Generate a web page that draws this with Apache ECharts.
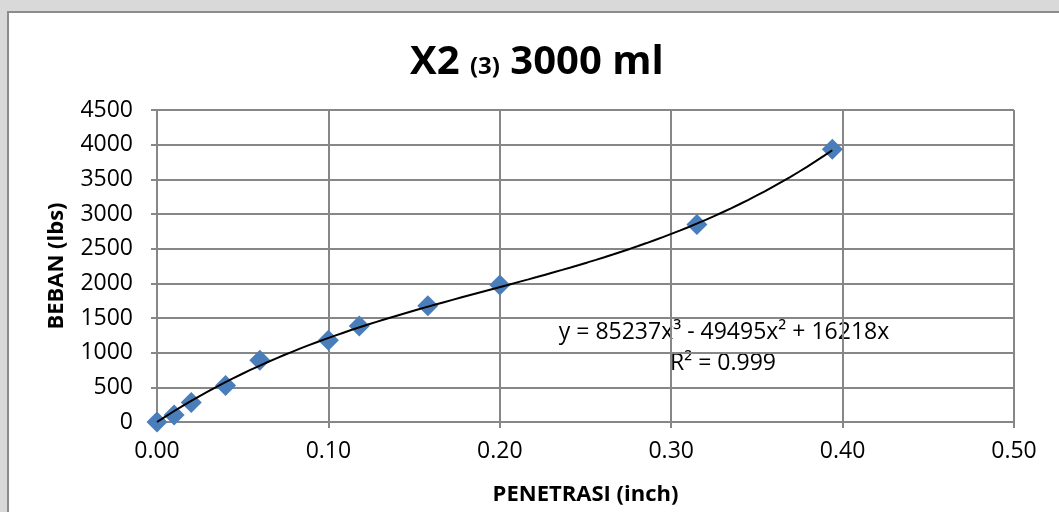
<!DOCTYPE html>
<html>
<head>
<meta charset="utf-8">
<script src="https://cdn.jsdelivr.net/npm/echarts@6/dist/echarts.min.js"></script>
<style>
    body { margin: 0; background: #d9d9d9; }
    #frame {
        position: absolute; left: 7px; top: 11px; right: 0; bottom: 0;
        background: #fff;
        border-left: 2px solid #8c8c8c;
        border-top: 2px solid #8c8c8c;
    }
    #chart { position: absolute; left: 0; top: 0; width: 1059px; height: 512px; }
</style>
</head>
<body>
<div id="frame"></div>
<div id="chart"></div>
<script>
// penetration (inch) and load (lbs)
var penetrasi = [0, 0.01, 0.02, 0.04, 0.06, 0.10, 0.118, 0.158, 0.20, 0.315, 0.394];
var beban = [0, 100, 280, 525, 890, 1180, 1385, 1675, 1975, 2850, 3935];

// trendline coefficients, as printed on the chart (x^3, x^2, x)
var trendCoef = [85237, -49495, 16218];
var trendLabel = 'y = 85237x\u00b3 - 49495x\u00b2 + 16218x';
var r2Label = 'R\u00b2 = 0.999';

var xTicks = [0, 0.1, 0.2, 0.3, 0.4, 0.5];
var yTicks = [0, 500, 1000, 1500, 2000, 2500, 3000, 3500, 4000, 4500];

var font = '"Open Sans", "Liberation Sans", sans-serif';
var gridColor = '#878787';

// trendline over the range of the data
var trend = [];
var xEnd = penetrasi[penetrasi.length - 1];
for (var i = 0; i <= 80; i++) {
    var x = xEnd * i / 80;
    trend.push([x, trendCoef[0] * x * x * x + trendCoef[1] * x * x + trendCoef[2] * x]);
}

var chart = echarts.init(document.getElementById('chart'));

var axisCommon = {
    type: 'value',
    nameLocation: 'middle',
    nameTextStyle: { fontFamily: font, fontWeight: 'bold', fontSize: 22, color: '#000' },
    axisLine: { show: true, lineStyle: { color: gridColor, width: 2 } },
    axisTick: { show: true, length: 6, lineStyle: { color: gridColor, width: 2 } },
    splitLine: { show: true, lineStyle: { color: gridColor, width: 2 } }
};

var option = {
    animation: false,
    backgroundColor: 'transparent',

    title: {
        text: '{a|X2 }{b|(3)}{a| 3000 ml}',
        left: 405,
        top: 38,
        textStyle: {
            rich: {
                a: { fontFamily: font, fontWeight: 'bold', fontSize: 40, color: '#000' },
                b: { fontFamily: font, fontWeight: 'bold', fontSize: 24, color: '#000', padding: [8, 0, 0, 0] }
            }
        }
    },

    grid: { left: 157, right: 45, top: 110, bottom: 90 },

    xAxis: echarts.util.merge({
        name: 'PENETRASI (inch)',
        nameGap: 62,
        min: xTicks[0],
        max: xTicks[xTicks.length - 1],
        interval: 0.1,
        axisLabel: {
            fontFamily: font, fontSize: 23, color: '#000', margin: 18,
            formatter: function (v) { return v.toFixed(2); }
        }
    }, axisCommon),

    yAxis: echarts.util.merge({
        name: 'BEBAN (lbs)',
        nameGap: 89,
        nameRotate: 90,
        min: yTicks[0],
        max: yTicks[yTicks.length - 1],
        interval: 500,
        axisLabel: {
            fontFamily: font, fontSize: 23, color: '#000', margin: 24,
            formatter: function (v) { return String(v); }
        }
    }, axisCommon),

    graphic: [
        { type: 'text', x: 724, y: 332, style: { text: trendLabel, font: '23px ' + font, fill: '#000', align: 'center', verticalAlign: 'middle' } },
        { type: 'text', x: 723, y: 363, style: { text: r2Label, font: '23px ' + font, fill: '#000', align: 'center', verticalAlign: 'middle' } }
    ],

    series: [
        {
            type: 'scatter',
            symbol: 'diamond',
            symbolSize: 21,
            itemStyle: { color: '#4a7ebb', opacity: 1 },
            data: penetrasi.map(function (p, i) { return [p, beban[i]]; }),
            z: 2
        },
        {
            type: 'line',
            showSymbol: false,
            symbol: 'none',
            lineStyle: { color: '#000', width: 2 },
            data: trend,
            z: 3
        }
    ]
};

chart.setOption(option);
</script>
</body>
</html>
